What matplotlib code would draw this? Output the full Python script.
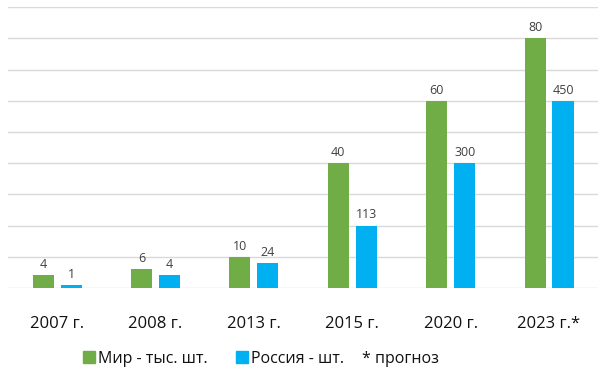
import matplotlib.pyplot as plt
from matplotlib.patches import Patch
import numpy as np

plt.rcParams['font.family'] = ['Open Sans', 'DejaVu Sans']

years = ['2007 г.', '2008 г.', '2013 г.', '2015 г.', '2020 г.', '2023 г.*']
world = [4, 6, 10, 40, 60, 80]                 # тыс. шт.
russia_labels = ['1', '4', '24', '113', '300', '450']  # шт.
russia_height = [0.8, 4, 8, 20, 40, 60]        # bar height as drawn in the source

green = '#70AD47'
blue = '#00B0F0'

fig = plt.figure(figsize=(6.06, 3.73), dpi=100)
ax = fig.add_axes([0.0132, 0.228, 0.974, 0.753])

x = np.arange(len(years))
w = 0.214
off = 0.142
b1 = ax.bar(x - off, world, w, color=green, zorder=3)
b2 = ax.bar(x + off, russia_height, w, color=blue, zorder=3)

for bars, labs in ((b1, [str(v) for v in world]), (b2, russia_labels)):
    for rect, s in zip(bars, labs):
        ax.annotate(s, (rect.get_x() + rect.get_width() / 2, rect.get_height()),
                    xytext=(0, 3), textcoords='offset points', ha='center',
                    va='bottom', fontsize=9, color='#404040')

ax.set_xlim(-0.5, 5.5)
ax.set_ylim(0, 90)
ax.set_yticks(range(0, 91, 10))
ax.yaxis.grid(True, color='#d9d9d9', linewidth=1, zorder=0)
ax.tick_params(axis='y', left=False, labelleft=False)
ax.tick_params(axis='x', bottom=False, pad=17, labelsize=12, labelcolor='#111111')
ax.set_xticks(x)
ax.set_xticklabels(years)
for s in ax.spines.values():
    s.set_visible(False)

handles = [Patch(color=green), Patch(color=blue)]
labels = ['Мир - тыс. шт.', 'Россия - шт.']
fig.legend(handles, labels, loc='center left', bbox_to_anchor=(83 / 606, 0.038),
           ncol=2, frameon=False, fontsize=11.5, handlelength=0.75, handleheight=0.75,
           handletextpad=0.2, columnspacing=1.75, borderpad=0, borderaxespad=0,
           labelcolor='#111111')
fig.text(362 / 606, 0.038, '* прогноз', fontsize=11.5, color='#111111',
         ha='left', va='center')

fig.savefig('out.png', dpi=100)
